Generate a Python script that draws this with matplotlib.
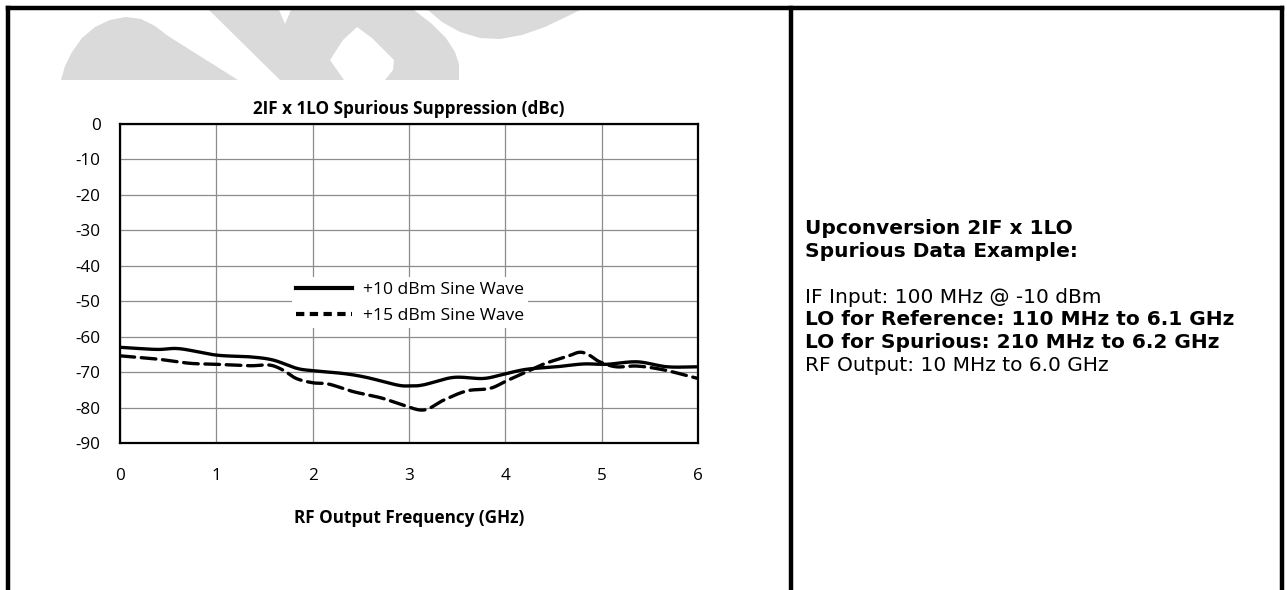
import numpy as np
import matplotlib
matplotlib.use("Agg")
import matplotlib.pyplot as plt
from matplotlib.patches import Polygon
from matplotlib.lines import Line2D

plt.rcParams["axes.unicode_minus"] = False

# RF output frequency (GHz) and 2IF x 1LO spur level (dBc) per LO drive
freq_10 = [0.0, 0.38, 0.62, 1.0, 1.35, 1.59, 1.83, 2.0, 2.32, 2.56, 2.87, 3.0,
           3.15, 3.46, 3.77, 3.98, 4.22, 4.53, 4.81, 5.05, 5.37, 5.68, 6.0]
spur_10 = [-63.0, -63.6, -63.4, -65.2, -65.7, -66.6, -68.9, -69.6, -70.4, -71.5,
           -73.6, -73.9, -73.6, -71.5, -71.8, -70.6, -69.2, -68.5, -67.7, -67.8,
           -67.1, -68.5, -68.5]

freq_15 = [0.0, 0.38, 0.72, 1.0, 1.35, 1.55, 1.69, 1.83, 2.0, 2.17, 2.42, 2.7,
           2.91, 3.15, 3.36, 3.6, 3.84, 4.01, 4.22, 4.42, 4.63, 4.77, 4.87, 4.98,
           5.15, 5.37, 5.65, 6.0]
spur_15 = [-65.4, -66.3, -67.5, -67.8, -68.2, -68.0, -69.4, -71.8, -73.0, -73.4,
           -75.5, -77.2, -79.0, -80.7, -77.9, -75.3, -74.6, -72.5, -69.9, -67.5,
           -65.7, -64.4, -65.2, -67.1, -68.5, -68.3, -69.4, -71.8]

series_labels = ["+10 dBm Sine Wave", "+15 dBm Sine Wave"]
x_ticks = [0, 1, 2, 3, 4, 5, 6]
y_ticks = [0, -10, -20, -30, -40, -50, -60, -70, -80, -90]

notes_title = ["Upconversion 2IF x 1LO", "Spurious Data Example:"]
notes = [("IF Input: 100 MHz @ -10 dBm", "normal"),
         ("LO for Reference: 110 MHz to 6.1 GHz", "bold"),
         ("LO for Spurious: 210 MHz to 6.2 GHz", "bold"),
         ("RF Output: 10 MHz to 6.0 GHz", "normal")]


def smooth(x, y, n=20):
    # Catmull-Rom pass so the curve looks like a smoothed spreadsheet line
    x = np.asarray(x, float)
    y = np.asarray(y, float)
    px = np.concatenate(([2 * x[0] - x[1]], x, [2 * x[-1] - x[-2]]))
    py = np.concatenate(([2 * y[0] - y[1]], y, [2 * y[-1] - y[-2]]))
    t = np.linspace(0, 1, n, endpoint=False)
    ox, oy = [], []
    for i in range(1, len(px) - 2):
        for p, o in ((px, ox), (py, oy)):
            p0, p1, p2, p3 = p[i - 1], p[i], p[i + 1], p[i + 2]
            o.extend(0.5 * (2 * p1 + (-p0 + p2) * t
                            + (2 * p0 - 5 * p1 + 4 * p2 - p3) * t ** 2
                            + (-p0 + 3 * p1 - 3 * p2 + p3) * t ** 3))
    ox.append(x[-1])
    oy.append(y[-1])
    return np.array(ox), np.array(oy)


W, H = 1287, 590
fig = plt.figure(figsize=(W / 100, H / 100), dpi=100)

# page layer in pixel units: watermark logo and table borders
bg = fig.add_axes([0, 0, 1, 1], zorder=0)
bg.set_xlim(0, W)
bg.set_ylim(H, 0)
bg.axis("off")

grey = "#dadada"
hump = [(61, 80), (65, 66), (72, 52), (82, 38), (95, 27), (110, 20), (126, 17),
        (141, 19), (155, 26), (168, 36), (238, 80)]
band = [(209, 10), (279, 10), (285, 24), (291, 10), (414, 10), (432, 24),
        (446, 38), (455, 52), (459, 64), (459, 80), (385, 80), (393, 70),
        (394, 60), (372, 38), (357, 27), (343, 40), (330, 60), (344, 80),
        (280, 80)]
cup = [(428, 10), (442, 22), (460, 32), (480, 38), (500, 39), (522, 35),
       (545, 27), (568, 16), (580, 10)]
for shape in (hump, band, cup):
    bg.add_patch(Polygon(shape, closed=True, facecolor=grey, edgecolor="none"))

border = dict(color="black", lw=3.2, solid_capstyle="projecting")
bg.plot([8, 1282], [8, 8], **border)
bg.plot([8, 8], [8, H + 5], **border)
bg.plot([791, 791], [8, H + 5], **border)
bg.plot([1282, 1282], [8, H + 5], **border)

# chart
ax = fig.add_axes([120 / W, 1 - 443 / H, 578 / W, 319 / H], zorder=2)
ax.patch.set_alpha(0)
cal = "Open Sans"
fs = 12.3

fx, fy = smooth(freq_10, spur_10)
ax.plot(fx, fy, color="black", lw=2.4, solid_capstyle="round", zorder=4)
fx, fy = smooth(freq_15, spur_15)
ax.plot(fx, fy, color="black", lw=2.4, linestyle=(0, (4.4, 2.0)),
        dash_capstyle="round", zorder=4)

ax.set_xlim(0, 6)
ax.set_ylim(-90, 0)
ax.set_xticks(x_ticks)
ax.set_yticks(y_ticks)
ax.grid(True, color="#8c8c8c", lw=0.9)
ax.set_axisbelow(True)
ax.tick_params(axis="x", length=0, labelsize=fs, pad=18)
ax.tick_params(axis="y", length=0, labelsize=fs, pad=14)
for lab in ax.get_xticklabels() + ax.get_yticklabels():
    lab.set_fontfamily(cal)
for s in ax.spines.values():
    s.set_linewidth(1.6)
    s.set_color("black")

ax.set_title("2IF x 1LO Spurious Suppression (dBc)", fontsize=fs,
             fontweight="bold", fontfamily=cal, pad=7)
ax.set_xlabel("RF Output Frequency (GHz)", fontsize=fs, fontweight="bold",
              fontfamily=cal, labelpad=18)

handles = [Line2D([], [], color="black", lw=3.0),
           Line2D([], [], color="black", lw=3.0, linestyle=(0, (2.0, 1.3)))]
leg = ax.legend(handles, series_labels, loc="center",
                bbox_to_anchor=(0.502, 0.44), frameon=True, fancybox=False,
                edgecolor="none", facecolor="white", framealpha=1,
                prop={"family": cal, "size": 12.6}, handlelength=3.2,
                handletextpad=0.6, labelspacing=0.55, borderpad=0.25)

# notes column
arial = "DejaVu Sans"
y = 229
for line in notes_title:
    fig.text(805 / W, 1 - y / H, line, fontsize=14.5, fontweight="bold",
             fontfamily=arial, va="center", ha="left")
    y += 22.7
y += 22.7
for line, weight in notes:
    fig.text(805 / W, 1 - y / H, line, fontsize=14.5, fontweight=weight,
             fontfamily=arial, va="center", ha="left")
    y += 22.7

fig.savefig("out.png", dpi=100, facecolor="white")
